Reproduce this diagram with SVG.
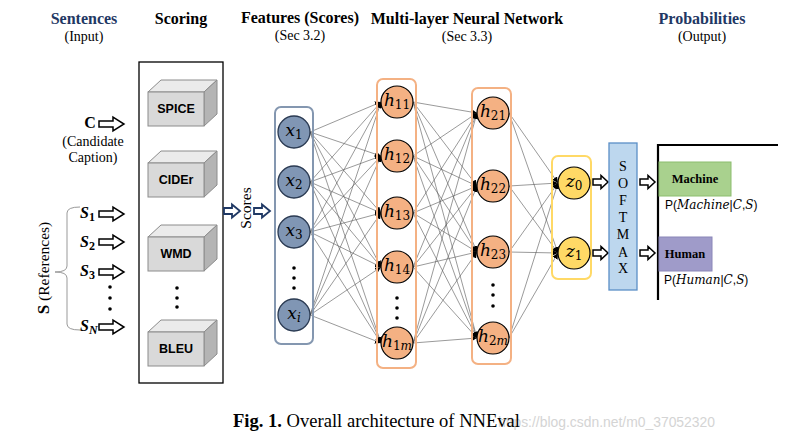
<svg xmlns="http://www.w3.org/2000/svg" xmlns:xlink="http://www.w3.org/1999/xlink" width="812" height="443" viewBox="0 0 812 443">
<defs>
<style>
.t{font-family:"Liberation Serif",serif;font-weight:bold;font-size:16px;fill:#000}
.tb{fill:#1f3864}
.st{font-family:"Liberation Serif",serif;font-size:14px;fill:#000}
.rot{font-size:15.5px}
.bar{font-family:"Liberation Serif",serif;font-weight:bold;font-size:12.5px;fill:#000}
.cube{font-family:"Liberation Sans",Arial,sans-serif;font-weight:bold;font-size:12.5px;fill:#000}
.ml{font-family:"DejaVu Serif","Liberation Serif",serif;font-style:italic;font-size:17px;fill:#000}
.sub{font-style:normal;font-size:12px}
.sl{font-family:"Liberation Serif",serif;font-weight:bold;font-style:italic;font-size:16px}
.e{stroke:#555;stroke-width:0.6;marker-end:url(#ah)}
.xn{fill:#8096b4;stroke:#2a3a52;stroke-width:1.3}
.hn{fill:#f4b183;stroke:#000;stroke-width:1.2}
.zn{fill:#ffd966;stroke:#000;stroke-width:1.2}
.dot{fill:#000}
.ba{fill:#fff;stroke:#000;stroke-width:1.5}
.bb{fill:#fff;stroke:#1f3864;stroke-width:1.8}
.sm{font-family:"Liberation Serif",serif;font-size:14px;fill:#000}
.prob{font-family:"Liberation Sans",sans-serif;font-size:12px;fill:#000}
.pi{font-family:"DejaVu Serif","Liberation Serif",serif;font-style:italic}
</style>
<marker id="ah" markerUnits="userSpaceOnUse" markerWidth="6" markerHeight="6" refX="6" refY="3" orient="auto">
<path d="M0,0 L6,3 L0,6 z" fill="#000"/>
</marker>
<path id="barrow" d="M0,-3 H14 V-7 L25,0 L14,7 V3 H0 Z"/>
<path id="sarrow" d="M0,-3 H8 V-6.5 L15,0 L8,6.5 V3 H0 Z"/>
<path id="blarrow" d="M0,-3 H8 V-6.5 L16,0 L8,6.5 V3 H0 Z"/>
<g id="cubeShape">
<polygon points="0,0 13,-12 69,-12 56,0" fill="#ebebeb" stroke="#8c8c8c" stroke-width="1"/>
<polygon points="56,0 69,-12 69,22 56,34" fill="#b4b4b4" stroke="#8c8c8c" stroke-width="1"/>
<rect x="0" y="0" width="56" height="34" fill="#d9d9d9" stroke="#8c8c8c" stroke-width="1"/>
</g>
</defs>
<rect width="812" height="443" fill="#fff"/>

<g id="titles">
<text class="t tb" x="84" y="24" text-anchor="middle">Sentences</text>
<text class="st" x="84" y="41" text-anchor="middle">(Input)</text>
<text class="t" x="181" y="24" text-anchor="middle">Scoring</text>
<text class="t" x="300" y="23" text-anchor="middle">Features (Scores)</text>
<text class="st" x="300" y="40" text-anchor="middle">(Sec 3.2)</text>
<text class="t" x="467" y="24" text-anchor="middle">Multi-layer Neural Network</text>
<text class="st" x="467" y="41" text-anchor="middle">(Sec 3.3)</text>
<text class="t tb" x="702" y="24" text-anchor="middle">Probabilities</text>
<text class="st" x="702" y="41" text-anchor="middle">(Output)</text>
</g>

<g id="inputs">
<text class="t" x="90" y="128" text-anchor="middle">C</text>
<use xlink:href="#barrow" class="ba" transform="translate(99,124)"/>
<text class="st" x="93" y="146" text-anchor="middle">(Candidate</text>
<text class="st" x="93" y="162" text-anchor="middle">Caption)</text>
<path d="M80,207 Q67,207 67,213 V266 Q67,272 55,272 Q67,272 67,278 V324 Q67,330 80,330" fill="none" stroke="#999" stroke-width="1"/>
<text class="st rot" transform="translate(49,268) rotate(-90)" text-anchor="middle"><tspan font-weight="bold" style="font-size:17px">S</tspan>  (References)</text>
<text class="sl" x="80" y="218">S<tspan class="sub" font-weight="bold" dy="3">1</tspan></text>
<text class="sl" x="80" y="247">S<tspan class="sub" font-weight="bold" dy="3">2</tspan></text>
<text class="sl" x="80" y="276">S<tspan class="sub" font-weight="bold" dy="3">3</tspan></text>
<text class="sl" x="80" y="331">S<tspan class="sub" font-weight="bold" style="font-style:italic" dy="3">N</tspan></text>
<use xlink:href="#barrow" class="ba" transform="translate(99,214)"/>
<use xlink:href="#barrow" class="ba" transform="translate(99,242)"/>
<use xlink:href="#barrow" class="ba" transform="translate(99,272)"/>
<use xlink:href="#barrow" class="ba" transform="translate(99,327)"/>
<circle class="dot" cx="110" cy="287" r="1.8"/>
<circle class="dot" cx="110" cy="298" r="1.8"/>
<circle class="dot" cx="110" cy="309" r="1.8"/>
</g>

<g id="scoring">
<rect x="139" y="62" width="84" height="321" fill="#fff" stroke="#000" stroke-width="1.3"/>
<use xlink:href="#cubeShape" transform="translate(148,92)"/>
<text class="cube" x="176" y="113" text-anchor="middle">SPICE</text>
<use xlink:href="#cubeShape" transform="translate(148,163)"/>
<text class="cube" x="176" y="184" text-anchor="middle">CIDEr</text>
<use xlink:href="#cubeShape" transform="translate(148,237)"/>
<text class="cube" x="176" y="258" text-anchor="middle">WMD</text>
<circle class="dot" cx="177" cy="288" r="1.8"/>
<circle class="dot" cx="177" cy="298" r="1.8"/>
<circle class="dot" cx="177" cy="307" r="1.8"/>
<use xlink:href="#cubeShape" transform="translate(148,332)"/>
<text class="cube" x="176" y="353" text-anchor="middle">BLEU</text>
</g>

<g id="scores-arrow">
<use xlink:href="#blarrow" class="bb" transform="translate(224,211)"/>
<text class="st rot" transform="translate(251,208) rotate(-90)" text-anchor="middle">Scores</text>
<use xlink:href="#blarrow" class="bb" transform="translate(254,211)"/>
</g>

<g id="connectors">
<line class="e" x1="310" y1="132" x2="381" y2="102"/>
<line class="e" x1="310" y1="132" x2="381" y2="156"/>
<line class="e" x1="310" y1="132" x2="381" y2="213"/>
<line class="e" x1="310" y1="132" x2="381" y2="267"/>
<line class="e" x1="310" y1="132" x2="381" y2="343"/>
<line class="e" x1="310" y1="182" x2="381" y2="102"/>
<line class="e" x1="310" y1="182" x2="381" y2="156"/>
<line class="e" x1="310" y1="182" x2="381" y2="213"/>
<line class="e" x1="310" y1="182" x2="381" y2="267"/>
<line class="e" x1="310" y1="182" x2="381" y2="343"/>
<line class="e" x1="310" y1="232" x2="381" y2="102"/>
<line class="e" x1="310" y1="232" x2="381" y2="156"/>
<line class="e" x1="310" y1="232" x2="381" y2="213"/>
<line class="e" x1="310" y1="232" x2="381" y2="267"/>
<line class="e" x1="310" y1="232" x2="381" y2="343"/>
<line class="e" x1="310" y1="315" x2="381" y2="102"/>
<line class="e" x1="310" y1="315" x2="381" y2="156"/>
<line class="e" x1="310" y1="315" x2="381" y2="213"/>
<line class="e" x1="310" y1="315" x2="381" y2="267"/>
<line class="e" x1="310" y1="315" x2="381" y2="343"/>

<line class="e" x1="413" y1="102" x2="477" y2="113"/>
<line class="e" x1="413" y1="102" x2="477" y2="186"/>
<line class="e" x1="413" y1="102" x2="477" y2="252"/>
<line class="e" x1="413" y1="102" x2="477" y2="338"/>
<line class="e" x1="413" y1="156" x2="477" y2="113"/>
<line class="e" x1="413" y1="156" x2="477" y2="186"/>
<line class="e" x1="413" y1="156" x2="477" y2="252"/>
<line class="e" x1="413" y1="156" x2="477" y2="338"/>
<line class="e" x1="413" y1="213" x2="477" y2="113"/>
<line class="e" x1="413" y1="213" x2="477" y2="186"/>
<line class="e" x1="413" y1="213" x2="477" y2="252"/>
<line class="e" x1="413" y1="213" x2="477" y2="338"/>
<line class="e" x1="413" y1="267" x2="477" y2="113"/>
<line class="e" x1="413" y1="267" x2="477" y2="186"/>
<line class="e" x1="413" y1="267" x2="477" y2="252"/>
<line class="e" x1="413" y1="267" x2="477" y2="338"/>
<line class="e" x1="413" y1="343" x2="477" y2="113"/>
<line class="e" x1="413" y1="343" x2="477" y2="186"/>
<line class="e" x1="413" y1="343" x2="477" y2="252"/>
<line class="e" x1="413" y1="343" x2="477" y2="338"/>

<line class="e" x1="509" y1="113" x2="558" y2="183"/>
<line class="e" x1="509" y1="113" x2="558" y2="253"/>
<line class="e" x1="509" y1="186" x2="558" y2="183"/>
<line class="e" x1="509" y1="186" x2="558" y2="253"/>
<line class="e" x1="509" y1="252" x2="558" y2="183"/>
<line class="e" x1="509" y1="252" x2="558" y2="253"/>
<line class="e" x1="509" y1="338" x2="558" y2="183"/>
<line class="e" x1="509" y1="338" x2="558" y2="253"/>
</g>

<g id="features">
<rect x="275" y="107" width="38" height="237" rx="6" fill="none" stroke="#8497b0" stroke-width="2"/>
<g id="x1"><circle class="xn" cx="294" cy="132" r="16"/><text class="ml" x="294" y="136" text-anchor="middle">x<tspan class="sub" dy="3">1</tspan></text></g>
<g id="x2"><circle class="xn" cx="294" cy="182" r="16"/><text class="ml" x="294" y="186" text-anchor="middle">x<tspan class="sub" dy="3">2</tspan></text></g>
<g id="x3"><circle class="xn" cx="294" cy="232" r="16"/><text class="ml" x="294" y="236" text-anchor="middle">x<tspan class="sub" dy="3">3</tspan></text></g>
<circle class="dot" cx="294" cy="268" r="1.8"/>
<circle class="dot" cx="294" cy="278" r="1.8"/>
<circle class="dot" cx="294" cy="288" r="1.8"/>
<g id="xi"><circle class="xn" cx="294" cy="315" r="16"/><text class="ml" x="294" y="319" text-anchor="middle">x<tspan class="sub" style="font-style:italic" dy="3">i</tspan></text></g>
</g>

<g id="hidden1">
<rect x="377" y="79" width="39" height="289" rx="6" fill="none" stroke="#f4b183" stroke-width="2"/>
<g id="h11"><circle class="hn" cx="397" cy="102" r="16"/><text class="ml" x="397" y="106" text-anchor="middle">h<tspan class="sub" dy="3">11</tspan></text></g>
<g id="h12"><circle class="hn" cx="397" cy="156" r="16"/><text class="ml" x="397" y="160" text-anchor="middle">h<tspan class="sub" dy="3">12</tspan></text></g>
<g id="h13"><circle class="hn" cx="397" cy="213" r="16"/><text class="ml" x="397" y="217" text-anchor="middle">h<tspan class="sub" dy="3">13</tspan></text></g>
<g id="h14"><circle class="hn" cx="397" cy="267" r="16"/><text class="ml" x="397" y="271" text-anchor="middle">h<tspan class="sub" dy="3">14</tspan></text></g>
<circle class="dot" cx="397" cy="298" r="1.8"/>
<circle class="dot" cx="397" cy="308" r="1.8"/>
<circle class="dot" cx="397" cy="318" r="1.8"/>
<g id="h1m"><circle class="hn" cx="397" cy="343" r="16"/><text class="ml" x="397" y="347" text-anchor="middle">h<tspan class="sub" dy="3">1<tspan style="font-style:italic">m</tspan></tspan></text></g>
</g>

<g id="hidden2">
<rect x="472" y="88" width="39" height="276" rx="6" fill="none" stroke="#f4b183" stroke-width="2"/>
<g id="h21"><circle class="hn" cx="493" cy="113" r="16"/><text class="ml" x="493" y="117" text-anchor="middle">h<tspan class="sub" dy="3">21</tspan></text></g>
<g id="h22"><circle class="hn" cx="493" cy="186" r="16"/><text class="ml" x="493" y="190" text-anchor="middle">h<tspan class="sub" dy="3">22</tspan></text></g>
<g id="h23"><circle class="hn" cx="493" cy="252" r="16"/><text class="ml" x="493" y="256" text-anchor="middle">h<tspan class="sub" dy="3">23</tspan></text></g>
<circle class="dot" cx="493" cy="285" r="1.8"/>
<circle class="dot" cx="493" cy="295" r="1.8"/>
<circle class="dot" cx="493" cy="306" r="1.8"/>
<g id="h2m"><circle class="hn" cx="493" cy="338" r="16"/><text class="ml" x="493" y="342" text-anchor="middle">h<tspan class="sub" dy="3">2<tspan style="font-style:italic">m</tspan></tspan></text></g>
</g>

<g id="output-layer">
<rect x="552" y="156" width="39" height="123" rx="6" fill="none" stroke="#ffd966" stroke-width="2"/>
<g id="z0"><circle class="zn" cx="574" cy="183" r="16"/><text class="ml" x="574" y="187" text-anchor="middle">z<tspan class="sub" dy="3">0</tspan></text></g>
<g id="z1"><circle class="zn" cx="574" cy="253" r="16"/><text class="ml" x="574" y="257" text-anchor="middle">z<tspan class="sub" dy="3">1</tspan></text></g>
</g>

<g id="softmax">
<use xlink:href="#sarrow" class="ba" transform="translate(593,182)"/>
<use xlink:href="#sarrow" class="ba" transform="translate(593,253)"/>
<rect x="609" y="143" width="28" height="147" fill="#bdd7ee" stroke="#5b8fc7" stroke-width="1.3"/>
<text class="sm" x="623" y="171" text-anchor="middle">S</text>
<text class="sm" x="623" y="188" text-anchor="middle">O</text>
<text class="sm" x="623" y="205" text-anchor="middle">F</text>
<text class="sm" x="623" y="222" text-anchor="middle">T</text>
<text class="sm" x="623" y="239" text-anchor="middle">M</text>
<text class="sm" x="623" y="257" text-anchor="middle">A</text>
<text class="sm" x="623" y="273" text-anchor="middle">X</text>
<use xlink:href="#sarrow" class="ba" transform="translate(640,182)"/>
<use xlink:href="#sarrow" class="ba" transform="translate(640,253)"/>
</g>

<g id="probabilities">
<path d="M658,300 V145 H778" fill="none" stroke="#000" stroke-width="2.2"/>
<g id="machine">
<rect x="659" y="162" width="72" height="34" fill="#a9d18e" stroke="#8cbd6e" stroke-width="1"/>
<text class="bar" x="695" y="183" text-anchor="middle">Machine</text>
<text class="prob" x="665" y="209">P(<tspan class="pi">Machine</tspan>|<tspan class="pi">C</tspan>,<tspan class="pi">S</tspan>)</text>
</g>
<g id="human">
<rect x="659" y="237" width="53" height="34" fill="#9f9bc9" stroke="#8a86b8" stroke-width="1"/>
<text class="bar" x="685" y="258" text-anchor="middle">Human</text>
<text class="prob" x="664" y="284">P(<tspan class="pi">Human</tspan>|<tspan class="pi">C</tspan>,<tspan class="pi">S</tspan>)</text>
</g>
</g>

<g id="caption">
<text x="498" y="427" font-family="Liberation Sans,sans-serif" font-size="15" fill="#d4d4d4" textLength="217" lengthAdjust="spacingAndGlyphs">https://blog.csdn.net/m0_37052320</text>
<text x="233" y="427" font-family="Liberation Serif,serif" font-size="18" fill="#000" textLength="287" lengthAdjust="spacingAndGlyphs"><tspan font-weight="bold">Fig. 1.</tspan> Overall architecture of NNEval</text>
</g>
</svg>
